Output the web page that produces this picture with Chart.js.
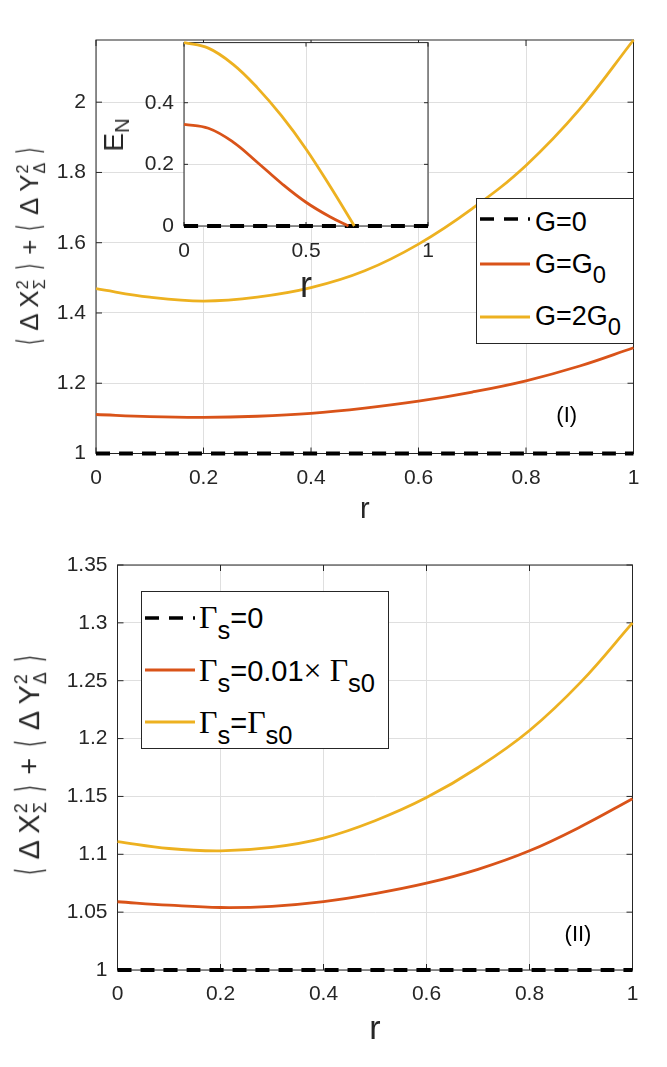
<!DOCTYPE html>
<html>
<head>
<meta charset="utf-8">
<script src="https://cdn.jsdelivr.net/npm/chart.js@4.4.1/dist/chart.umd.min.js"></script>
<style>
html, body { margin: 0; padding: 0; background: #fff; }
body { width: 667px; height: 1067px; position: relative; overflow: hidden; font-family: 'Liberation Sans', Arial, sans-serif; color: #000; }
.pane { position: absolute; }
.ylab { position: absolute; white-space: nowrap; transform: translate(-50%, -50%) rotate(-90deg); color: #262626; line-height: 1; }
.ss { display: inline-flex; flex-direction: column; vertical-align: middle; font-size: 0.62em; line-height: 1.05; margin-left: 1px; }
.br { font-family: 'DejaVu Sans', sans-serif; display: inline-block; transform: scale(0.6, 1.25); }
.legend { position: absolute; box-sizing: border-box; border: 1px solid #262626; background: #fff; }
.row { position: absolute; white-space: nowrap; line-height: 1; }
.sb { position: relative; top: 0.4em; font-size: 0.88em; }
.gam { font-family: 'Liberation Serif', serif; font-size: 1.1em; }
.tag { position: absolute; transform: translate(-50%, -50%); font-size: 22px; line-height: 1; color: #000; }
</style>
</head>
<body>
<div class="pane" style="left:0;top:0;width:667px;height:540px"><canvas id="cTop"></canvas></div>
<div class="pane" style="left:100px;top:20px;width:360px;height:300px"><canvas id="cInset"></canvas></div>
<div class="pane" style="left:0;top:540px;width:667px;height:527px"><canvas id="cBot"></canvas></div>

<script>
// ---- data ----
const rMain = [0, 0.1, 0.2, 0.3, 0.4, 0.5, 0.6, 0.7, 0.8, 0.9, 1];
const xTicksMain = [0, 0.2, 0.4, 0.6, 0.8, 1];

// panel (I)
const topG0 = [1, 1, 1, 1, 1, 1, 1, 1, 1, 1, 1];
const topG1 = [1.111, 1.105, 1.103, 1.106, 1.114, 1.129, 1.149, 1.175, 1.207, 1.249, 1.301];
const topG2 = [1.469, 1.445, 1.434, 1.445, 1.472, 1.520, 1.596, 1.697, 1.820, 1.980, 2.177];
const yTicksTop = [1, 1.2, 1.4, 1.6, 1.8, 2];
const topNames = ['G=0', 'G=G<span class="sb">0</span>', 'G=2G<span class="sb">0</span>'];

// inset E_N
const rInset0 = [0, 1];
const insetG0 = [0, 0];
const rInset1 = [0, 0.1, 0.2, 0.3, 0.4, 0.5, 0.6, 0.674];
const insetG1 = [0.330, 0.317, 0.273, 0.207, 0.138, 0.077, 0.029, 0];
const rInset2 = [0, 0.1, 0.2, 0.3, 0.4, 0.5, 0.6, 0.698];
const insetG2 = [0.595, 0.577, 0.525, 0.449, 0.357, 0.250, 0.127, 0];
const xTicksInset = [0, 0.5, 1];
const yTicksInset = [0, 0.2, 0.4];

// panel (II)
const botS0 = [1, 1, 1, 1, 1, 1, 1, 1, 1, 1, 1];
const botS1 = [1.059, 1.056, 1.054, 1.055, 1.059, 1.066, 1.075, 1.087, 1.103, 1.124, 1.148];
const botS2 = [1.111, 1.105, 1.103, 1.106, 1.114, 1.129, 1.149, 1.175, 1.207, 1.249, 1.300];
const yTicksBot = [1, 1.05, 1.1, 1.15, 1.2, 1.25, 1.3, 1.35];
const botNames = [
  '<span class="gam">Γ</span><span class="sb">s</span>=0',
  '<span class="gam">Γ</span><span class="sb">s</span>=0.01<span class="gam">×</span> <span class="gam">Γ</span><span class="sb">s0</span>',
  '<span class="gam">Γ</span><span class="sb">s</span>=<span class="gam">Γ</span><span class="sb">s0</span>'
];

const lineColors = ['#000000', '#D95319', '#EDB120'];

Chart.defaults.font.family = "'Liberation Sans', Arial, sans-serif";
Chart.defaults.color = '#262626';

function series(xs, ys, k) {
  return {
    data: xs.map((x, i) => ({ x: x, y: ys[i] })),
    borderColor: lineColors[k],
    borderWidth: k ? 2.8 : 3.8,
    borderDash: k ? [] : [14, 9],
    pointRadius: 0,
    tension: 0.4,
    fill: false,
    clip: false,
    order: 2 - k
  };
}

// white plot area, matlab style box and inward ticks
const boxPlugin = {
  id: 'box',
  beforeDraw(chart) {
    const { ctx, chartArea: a } = chart;
    ctx.save();
    ctx.fillStyle = '#fff';
    ctx.fillRect(a.left, a.top, a.width, a.height);
    ctx.restore();
  },
  beforeDatasetsDraw(chart, args, opts) {
    const { ctx, chartArea: a, scales } = chart;
    const L = opts.len || 6;
    ctx.save();
    ctx.strokeStyle = '#262626';
    ctx.lineWidth = 1;
    ctx.beginPath();
    scales.x.ticks.forEach(t => {
      const px = scales.x.getPixelForValue(t.value);
      ctx.moveTo(px, a.bottom); ctx.lineTo(px, a.bottom - L);
      ctx.moveTo(px, a.top); ctx.lineTo(px, a.top + L);
    });
    scales.y.ticks.forEach(t => {
      const py = scales.y.getPixelForValue(t.value);
      ctx.moveTo(a.left, py); ctx.lineTo(a.left + L, py);
      ctx.moveTo(a.right, py); ctx.lineTo(a.right - L, py);
    });
    ctx.stroke();
    ctx.strokeRect(a.left, a.top, a.width, a.height);
    ctx.restore();
  }
};

function makeChart(id, datasets, o) {
  return new Chart(document.getElementById(id), {
    type: 'line',
    data: { datasets: datasets },
    plugins: [boxPlugin],
    options: {
      responsive: true,
      maintainAspectRatio: false,
      animation: false,
      events: [],
      layout: { padding: o.pad },
      plugins: { legend: { display: false }, tooltip: { enabled: false }, box: { len: o.tick } },
      scales: {
        x: {
          type: 'linear', min: 0, max: 1,
          afterBuildTicks: s => { s.ticks = o.xTicks.map(v => ({ value: v })); },
          afterFit: s => { s.height = o.xh; },
          grid: { color: '#dfdfdf', drawTicks: false },
          border: { display: false },
          ticks: { padding: o.xpad, font: { size: 21 }, autoSkip: false, maxRotation: 0, callback: v => String(v) },
          title: { display: true, text: 'r', color: '#262626', font: { size: o.tsize }, padding: { top: 0, bottom: o.tpad } }
        },
        y: {
          type: 'linear', min: o.yMin, max: o.yMax,
          afterBuildTicks: s => { s.ticks = o.yTicks.map(v => ({ value: v })); },
          afterFit: s => { s.width = o.yw; },
          grid: { color: '#dfdfdf', drawTicks: false },
          border: { display: false },
          ticks: { padding: 10, font: { size: 21 }, autoSkip: false, callback: v => String(v) }
        }
      }
    }
  });
}

makeChart('cTop', [series(rMain, topG0, 0), series(rMain, topG1, 1), series(rMain, topG2, 2)], {
  pad: { top: 40, right: 33.5, left: 0, bottom: 0 },
  xTicks: xTicksMain, yTicks: yTicksTop, yMin: 1, yMax: 2.177,
  xh: 86.5, yw: 96, xpad: 12.2, tsize: 29, tpad: 12.6, tick: 6
});

makeChart('cInset', [series(rInset0, insetG0, 0), series(rInset1, insetG1, 1), series(rInset2, insetG2, 2)], {
  pad: { top: 21, right: 32, left: 0, bottom: 0 },
  xTicks: xTicksInset, yTicks: yTicksInset, yMin: 0, yMax: 0.595,
  xh: 94, yw: 84, xpad: 13, tsize: 36, tpad: 11.5, tick: 4
});

makeChart('cBot', [series(rMain, botS0, 0), series(rMain, botS1, 1), series(rMain, botS2, 2)], {
  pad: { top: 25, right: 34.5, left: 0, bottom: 0 },
  xTicks: xTicksMain, yTicks: yTicksBot, yMin: 1, yMax: 1.35,
  xh: 97, yw: 117.5, xpad: 12, tsize: 34, tpad: 16.6, tick: 6
});

// ---- html overlays: rotated axis labels, legends, panel tags ----
const yLabelHtml = '<span class="br">⟨</span> Δ X<span class="ss"><span>2</span><span>Σ</span></span> <span class="br">⟩</span> + ' +
                   '<span class="br">⟨</span> Δ Y<span class="ss"><span>2</span><span>Δ</span></span> <span class="br">⟩</span>';

function addLabel(html, x, y, size, cls) {
  const el = document.createElement('div');
  el.className = cls;
  el.style.left = x + 'px';
  el.style.top = y + 'px';
  el.style.fontSize = size + 'px';
  el.innerHTML = html;
  document.body.appendChild(el);
}

addLabel(yLabelHtml, 31, 246, 26, 'ylab');
addLabel(yLabelHtml, 31, 765, 29, 'ylab');
addLabel('E<span class="sb" style="font-size:0.72em;top:0.3em">N</span>', 114, 135, 28, 'ylab');
addLabel('(I)', 566.7, 415, 22, 'tag');
addLabel('(II)', 578, 934, 22, 'tag');

function buildLegend(box, names, fs, textRows, lineRows, sx, tx) {
  const el = document.createElement('div');
  el.className = 'legend';
  el.style.left = box[0] + 'px';
  el.style.top = box[1] + 'px';
  el.style.width = box[2] + 'px';
  el.style.height = box[3] + 'px';
  names.forEach((n, k) => {
    const dash = k ? '' : 'stroke-dasharray="14 10"';
    el.insertAdjacentHTML('beforeend',
      `<svg style="position:absolute;left:${sx}px;top:${lineRows[k] - 3}px" width="52" height="6">` +
      `<line x1="0" y1="3" x2="50" y2="3" stroke="${lineColors[k]}" stroke-width="${k ? 2.8 : 3.4}" ${dash}/></svg>` +
      `<div class="row" style="left:${tx}px;top:${textRows[k] - fs / 2}px;font-size:${fs}px">${n}</div>`);
  });
  document.body.appendChild(el);
}

buildLegend([476, 198.3, 157.5, 146], topNames, 27, [23.4, 65.7, 117.4], [19.7, 65, 117.4], 3, 58);
buildLegend([140.5, 590.7, 248, 158.3], botNames, 29, [25.3, 78.3, 130.3], [26.6, 78.3, 130], 3.5, 57.5);
</script>
</body>
</html>
